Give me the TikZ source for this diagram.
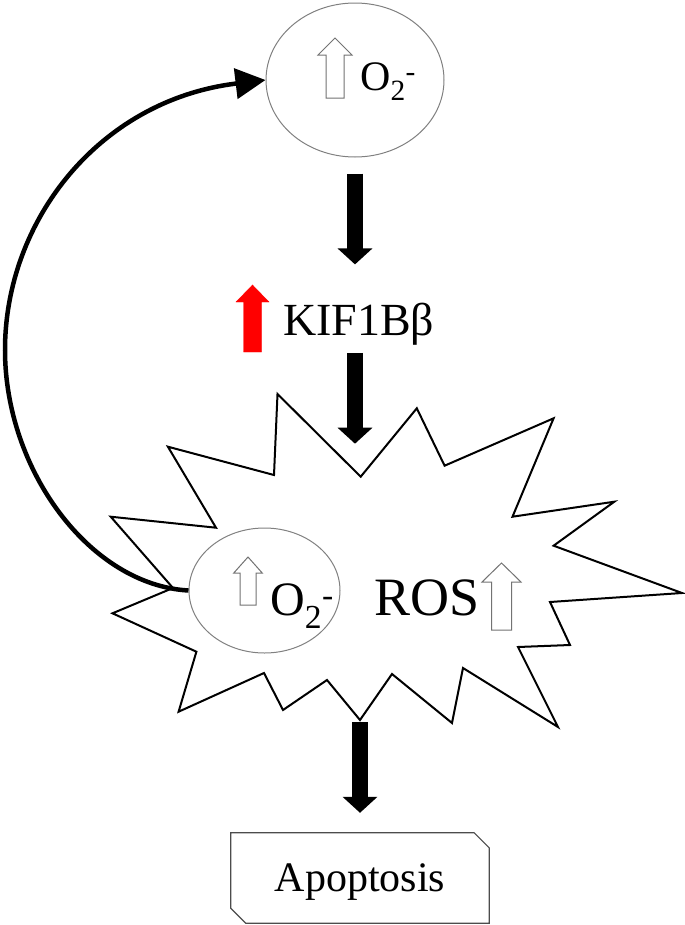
\documentclass[tikz,border=0pt]{standalone}
\usepackage{fontspec}
\setmainfont{Liberation Serif}
\usetikzlibrary{arrows.meta,shapes.geometric}

% block arrow pointing up: [style]{x}{bottom y}{length}{head width}{shaft width}{head length}
\newcommand{\blockup}[7][]{%
  \draw[#1] ({#2-#6/2},#3) -- ({#2-#6/2},{#3-#4+#7}) -- ({#2-#5/2},{#3-#4+#7})
    -- (#2,{#3-#4}) -- ({#2+#5/2},{#3-#4+#7}) -- ({#2+#6/2},{#3-#4+#7})
    -- ({#2+#6/2},#3) -- cycle;}

\begin{document}
\begin{tikzpicture}[x=1bp, y=-1bp,
  bubble/.style={ellipse, draw=black!50, line width=1bp, fill=white, inner sep=0pt},
  burst/.style={draw=black, line width=2bp, fill=white, line join=miter},
  hollow/.style={draw=black!55, line width=1bp, fill=white},
  fat/.style={line width=16bp, -{Triangle[length=16bp, width=34bp]}},
  loop/.style={line width=4.5bp, -{Triangle[length=30bp, width=30bp]}}]

\useasboundingbox (0,0) rectangle (685,925);

% ROS burst
\draw[burst] (277.5,394) -- (360.7,476.7) coordinate (rosTop) -- (416.8,408.3)
  -- (444.6,465.7) -- (553.6,418.3) -- (512.5,516.7) -- (614.3,501.7)
  -- (553.6,545.7) -- (682,593) -- (550,602) -- (570,645) -- (518,647)
  -- (558,727) -- (463,668) -- (452,723) -- (392,674) -- (360,720) coordinate (rosBot)
  -- (327,680) -- (283,710) -- (264,673) -- (178.6,711.7) -- (196.4,651.7)
  -- (112.5,613.3) -- (173,588) -- (110.7,516.7) -- (216,527.7)
  -- (167.9,446.7) -- (274,475) -- cycle;

\node[bubble, minimum width=178bp, minimum height=154bp] (topO) at (355,80) {};
\node[bubble, minimum width=151bp, minimum height=125bp] (lowO) at (264.5,590.5) {};

\node[anchor=base west, inner sep=0pt, font=\fontsize{42bp}{50bp}\selectfont] (topOtxt) at (360,90)
  {O\textsubscript{2}\textsuperscript{-}};
\node[anchor=base west, inner sep=0pt, font=\fontsize{46bp}{52bp}\selectfont] (kif) at (283,335)
  {KIF1Bβ};
\node[anchor=base west, inner sep=0pt, font=\fontsize{48bp}{55bp}\selectfont] (lowOtxt) at (270,615)
  {O\textsubscript{2}\textsuperscript{-}};
\node[anchor=base west, inner sep=0pt, font=\fontsize{54bp}{60bp}\selectfont] (ros) at (374,615)
  {ROS};
\node[inner sep=0pt, minimum width=258bp, minimum height=90bp, text depth=0pt,
  font=\fontsize{42bp}{48bp}\selectfont] (apop) at (360,878) {Apoptosis};
\draw[black!70, line width=1.2bp] (apop.north west) -- ([xshift=-15bp]apop.north east)
  -- ([yshift=-15bp]apop.north east) -- (apop.south east)
  -- ([xshift=15bp]apop.south west) -- ([yshift=15bp]apop.south west) -- cycle;

% up arrows
\blockup[hollow]{335}{98}{60}{34}{18}{17}
\blockup[fill=red, draw=red]{252.5}{352}{67}{33}{18}{17}
\blockup[hollow]{248}{605}{48}{28.5}{16}{16}
\blockup[hollow]{501.5}{630}{67}{39}{20}{19}

% pathway
\draw[fat, shorten <=16bp, shorten >=38bp] (topO.south) -- (topO.south |- kif.north);
\draw[fat, shorten <=8bp, shorten >=33bp] (topO |- kif.south) -- (topO |- rosTop);
\draw[fat, shorten <=2bp, shorten >=20bp] (rosBot) -- (rosBot |- apop.north);

% feedback loop
\draw[loop] (lowO.west) .. controls (90,585) and (5,470) .. (5,350)
  .. controls (5,220) and (100,100) .. (topO.west);

\end{tikzpicture}
\end{document}
